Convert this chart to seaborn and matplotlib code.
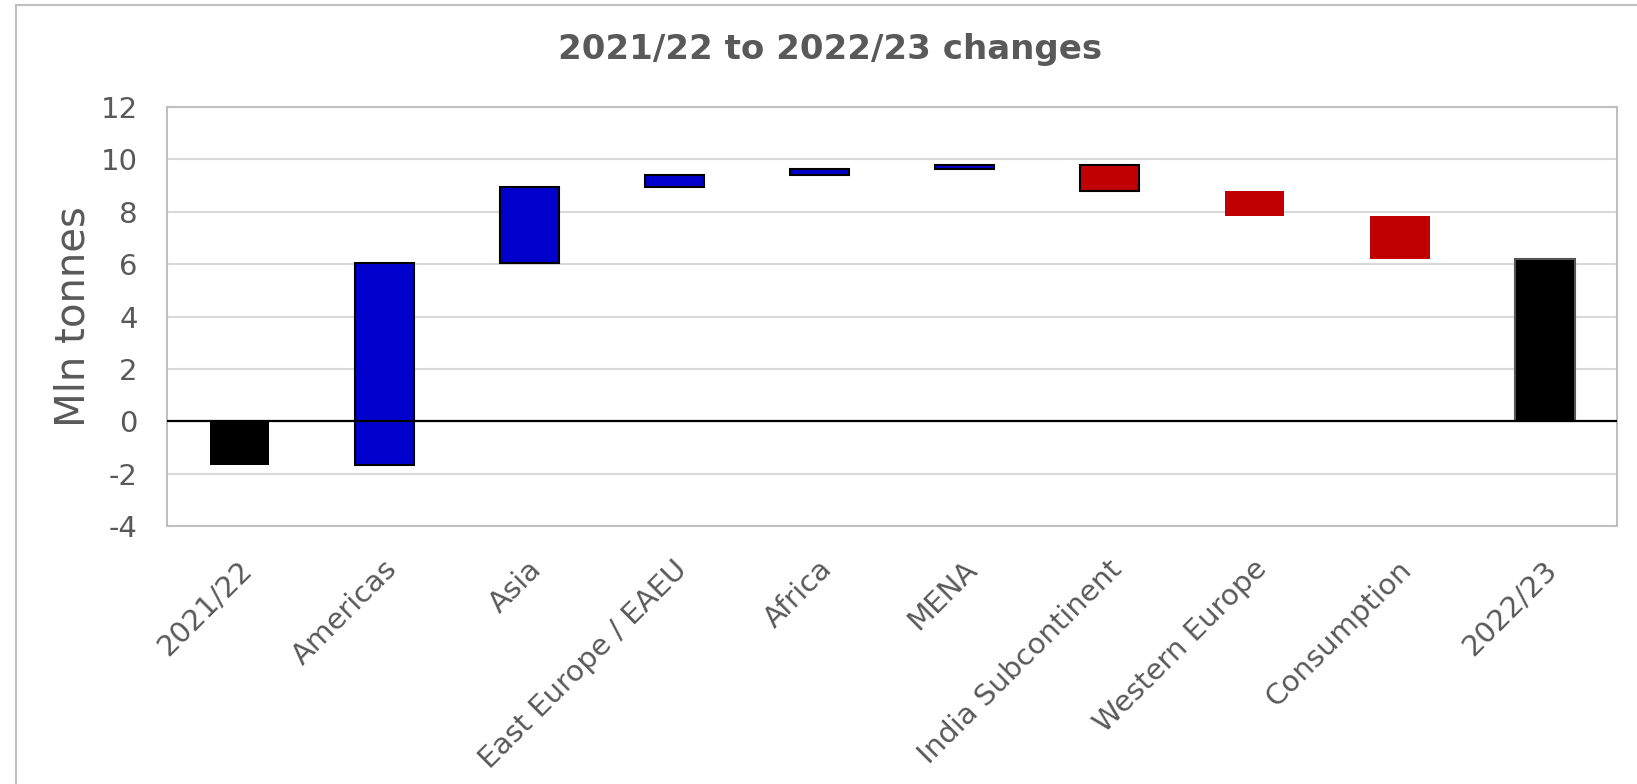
import numpy as np
import pandas as pd
import matplotlib
matplotlib.use("Agg")
import matplotlib.pyplot as plt
import matplotlib.transforms as mtransforms
from matplotlib.lines import Line2D
import seaborn as sns

# waterfall data (Mln tonnes)
categories = ["2021/22", "Americas", "Asia", "East Europe / EAEU", "Africa",
              "MENA", "India Subcontinent", "Western Europe", "Consumption", "2022/23"]
start_value = -1.67
changes = [7.73, 2.87, 0.46, 0.24, 0.15, -0.97, -0.98, -1.63]
end_value = 6.20

bar_colors = ["#000000", "#0000CC", "#0000CC", "#0000CC", "#0000CC",
              "#0000CC", "#C00000", "#C00000", "#C00000", "#000000"]
edge_colors = ["none", "#000000", "#000000", "#000000", "#000000",
               "#000000", "#000000", "none", "none", "#555555"]

# floating bar bottoms / tops
levels = np.concatenate([[start_value], start_value + np.cumsum(changes)])
bottoms = [0.0] + [min(levels[i], levels[i + 1]) for i in range(len(changes))] + [0.0]
tops = [start_value] + [max(levels[i], levels[i + 1]) for i in range(len(changes))] + [end_value]
df = pd.DataFrame({"category": categories,
                   "bottom": bottoms,
                   "height": np.array(tops) - np.array(bottoms)})

sns.set_theme(style="white")
plt.rcParams["font.family"] = ["DejaVu Sans"]
plt.rcParams["axes.unicode_minus"] = False
text_grey = "#595959"

fig = plt.figure(figsize=(16.37, 7.84), dpi=100)
ax = fig.add_axes([0.102, 0.329, 0.886, 0.5345])

sns.barplot(data=df, x="category", y="height", hue="category",
            palette=dict(zip(categories, bar_colors)), order=categories,
            width=0.41, legend=False, ax=ax, saturation=1)

for p, b, ec in zip(ax.patches, bottoms, edge_colors):
    h = p.get_height()
    p.set_y(b)
    p.set_height(h)
    p.set_edgecolor(ec)
    p.set_linewidth(1.5 if ec != "none" else 0)
    p.set_zorder(3)

ax.set_ylim(-4, 12)
ax.set_yticks(range(-4, 13, 2))
ax.set_xlim(-0.5, len(categories) - 0.5)
ax.yaxis.grid(True, color="#D9D9D9", linewidth=1.5)
ax.set_axisbelow(True)
ax.axhline(0, color="black", linewidth=1.6, zorder=4)

for s in ax.spines.values():
    s.set_color("#BFBFBF")
    s.set_linewidth(1.5)

ax.tick_params(axis="y", length=0, pad=21, labelsize=21, labelcolor=text_grey)
ax.tick_params(axis="x", length=0, pad=28, labelsize=21, labelcolor=text_grey)
ax.set_xlabel("")
ax.set_ylabel("Mln tonnes", fontsize=29, color=text_grey, labelpad=5)

shift = mtransforms.ScaledTranslation(8 / 100, 0, fig.dpi_scale_trans)
for lbl in ax.get_xticklabels():
    lbl.set_rotation(45)
    lbl.set_ha("right")
    lbl.set_va("center")
    lbl.set_rotation_mode("anchor")
    lbl.set_transform(lbl.get_transform() + shift)

fig.text(0.507, 0.937, "2021/22 to 2022/23 changes", ha="center", va="center",
         fontsize=24.5, fontweight="bold", color=text_grey)

# chart area border (left and top edges visible)
fig.add_artist(Line2D([16 / 1637, 16 / 1637], [0, 1 - 5 / 784],
                      transform=fig.transFigure, color="#BFBFBF", linewidth=1.5))
fig.add_artist(Line2D([16 / 1637, 1], [1 - 5 / 784, 1 - 5 / 784],
                      transform=fig.transFigure, color="#BFBFBF", linewidth=1.5))

fig.savefig("out.png", dpi=100, facecolor="white")
